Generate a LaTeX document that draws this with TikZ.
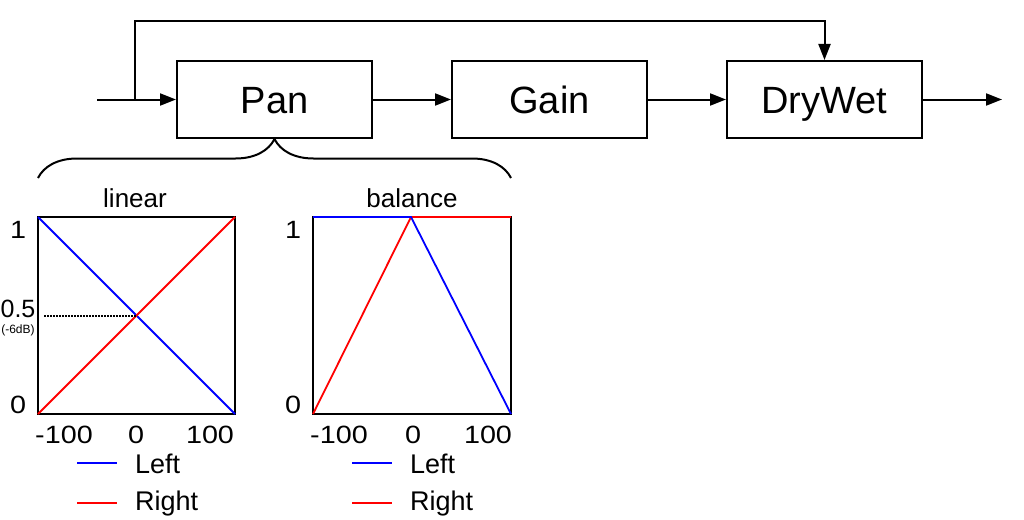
\documentclass[tikz,border=0pt]{standalone}
\usepackage{fontspec}
\setmainfont{Liberation Sans}
\newfontfamily\widefont[FakeStretch=1.15]{Liberation Sans}
\usetikzlibrary{positioning,arrows.meta,decorations.pathreplacing}

\begin{document}
\begin{tikzpicture}[x=1pt, y=-1pt,
    block/.style={rectangle, draw=black, line width=2pt, minimum width=195pt,
        minimum height=77pt, inner sep=0pt, text height=27pt, text depth=0pt,
        font=\fontsize{38}{40}\selectfont},
    arr/.style={-{Triangle[length=16pt, width=12pt]}, line width=2pt},
    frame/.style={line width=2.2pt},
    leftcurve/.style={blue, line width=1.8pt},
    rightcurve/.style={red, line width=1.8pt},
    title/.style={font=\fontsize{26}{28}\selectfont, anchor=base, inner sep=0pt},
    axlabel/.style={font=\widefont\fontsize{25}{27}\selectfont, anchor=base, inner sep=0pt},
    legtext/.style={font=\fontsize{27}{29}\selectfont, anchor=west, inner sep=0pt},
]
\useasboundingbox (0,0) rectangle (1024,519);

% signal chain
\node[block] (pan) at (274.5,99.5) {Pan};
\node[block, right=78pt of pan] (gain) {Gain};
\node[block, right=78pt of gain] (drywet) {DryWet};

\coordinate (in) at (97,99.5);
\coordinate (split) at (135,99.5);
\coordinate (bypass) at (135,21);
\coordinate (out) at (1002,99.5);

\draw[arr] (in) -- (pan);
\draw[arr] (split) -- (bypass) -| (drywet.north);
\draw[arr] (pan) -- (gain);
\draw[arr] (gain) -- (drywet);
\draw[arr] (drywet) -- (out);

% brace under Pan
\draw[line width=2pt, decorate, decoration={brace, amplitude=39pt}]
    (38,178) -- (511,178);

% linear
\node[title] (lintitle) at (135,207) {linear};
\draw[frame] (38,217) rectangle (235,414);
\draw[leftcurve] (38,217) -- (235,414);
\draw[rightcurve] (38,414) -- (235,217);
\draw[line width=1.5pt, dash pattern=on 1.5pt off 1.5pt] (44,316) -- (136.5,316);
\node[axlabel] (linone) at (18,238) {1};
\node[axlabel, font=\fontsize{25}{27}\selectfont] (linhalf) at (18,317) {0.5};
\node[font=\fontsize{12}{13}\selectfont, anchor=base, inner sep=0pt] (lindb) at (18,333) {(-6dB)};
\node[axlabel] (linzero) at (18,413) {0};
\node[axlabel] (linmin) at (64,443) {-100};
\node[axlabel] (linmid) at (136,443) {0};
\node[axlabel] (linmax) at (210,443) {100};

% balance
\node[title] (baltitle) at (412,207) {balance};
\draw[frame] (313,217) rectangle (511,414);
\draw[rightcurve] (313,414) -- (411,217) -- (511,217);
\draw[leftcurve] (313,217) -- (411,217) -- (511,414);
\node[axlabel] (balone) at (293,238) {1};
\node[axlabel] (balzero) at (293,413) {0};
\node[axlabel] (balmin) at (339,443) {-100};
\node[axlabel] (balmid) at (413,443) {0};
\node[axlabel] (balmax) at (488,443) {100};

% legends
\draw[leftcurve] (77,463) -- (117,463);
\node[legtext] (linleft) at (135,464) {Left};
\draw[rightcurve] (77,503) -- (117,503);
\node[legtext] (linright) at (135,504) {Right};
\draw[leftcurve] (352,463) -- (392,463);
\node[legtext] (balleft) at (410,464) {Left};
\draw[rightcurve] (352,503) -- (392,503);
\node[legtext] (balright) at (410,504) {Right};
\end{tikzpicture}
\end{document}
